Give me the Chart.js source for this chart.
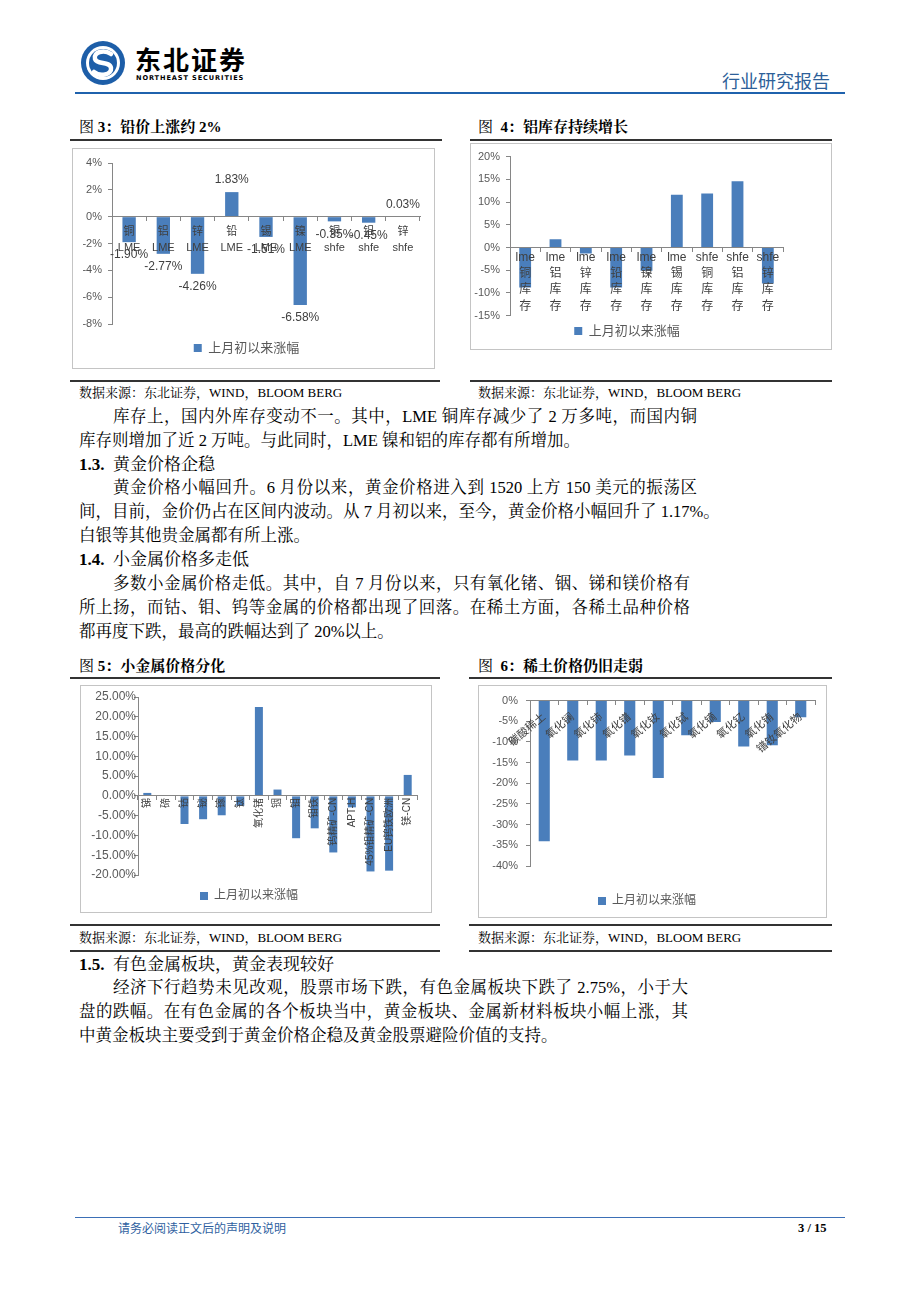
<!DOCTYPE html>
<html>
<head>
<meta charset="utf-8">
<script src="https://cdn.jsdelivr.net/npm/chart.js@4.4.1/dist/chart.umd.min.js"></script>
<style>
  body { margin: 0; background: #fff; }
  #page { position: relative; width: 920px; height: 1302px; background: #fff; overflow: hidden;
          font-family: "Liberation Serif", "Noto Serif CJK SC", "Noto Sans CJK SC", serif; color: #000; }
  .abs { position: absolute; white-space: nowrap; }
  .ln { position: absolute; white-space: nowrap; font-size: 16.5px; line-height: 24px; height: 24px; }
  .just { text-align: justify; text-align-last: justify; }
  .hd { position: absolute; white-space: nowrap; font-size: 17px; line-height: 24px; }
  .hd b { font-weight: bold; }
  .ttl { position: absolute; white-space: nowrap; font-size: 15px; line-height: 20px; }
  .src { position: absolute; white-space: nowrap; font-size: 13px; line-height: 18px; }
  .rule { position: absolute; height: 2px; background: #333; }
  .box { position: absolute; border: 1px solid #c4c4c4; box-sizing: border-box; }
  .box canvas { position: absolute; left: 0; top: 0; }
</style>
</head>
<body>
<div id="page">
  <!-- header -->
  <svg class="abs" style="left:80px;top:40px" width="48" height="48" viewBox="0 0 48 48">
    <circle cx="23" cy="23" r="22" fill="#1d5ea8"/>
    <circle cx="23" cy="23" r="17" fill="#fff"/>
    <circle cx="23" cy="23" r="14" fill="#1d5ea8"/>
    <path d="M31 14 C24 9 13 12 15 19 C17 25 30 21 31 28 C32 35 20 37 14 32" stroke="#fff" stroke-width="4.5" fill="none" stroke-linecap="round"/>
  </svg>
  <div class="abs" style="left:135px;top:44px;font-family:'Noto Sans CJK SC';font-weight:bold;font-size:26px;line-height:30px;letter-spacing:2px">东北证券</div>
  <div class="abs" style="left:136px;top:74px;font-family:'DejaVu Sans';font-weight:bold;font-size:6.6px;line-height:8px;letter-spacing:0.9px">NORTHEAST SECURITIES</div>
  <div class="abs" style="left:722px;top:69px;font-family:'Noto Sans CJK SC';font-size:18px;line-height:22px;color:#2d5f99">行业研究报告</div>
  <div class="abs" style="left:75px;top:92px;width:770px;height:2px;background:#1f62ad"></div>

  <!-- figure 3 / 4 titles -->
  <div class="ttl" style="left:79px;top:117px">图 <b>3：铅价上涨约 2%</b></div>
  <div class="ttl" style="left:478px;top:117px">图&nbsp;&nbsp;<b>4：铝库存持续增长</b></div>
  <div class="rule" style="left:70px;top:139px;width:372px"></div>
  <div class="rule" style="left:470px;top:139px;width:362px"></div>

  <div class="box" style="left:72px;top:148px;width:363px;height:221px"><canvas id="c3" width="361" height="219"></canvas></div>
  <div class="box" style="left:470px;top:143px;width:362px;height:207px"><canvas id="c4" width="360" height="205"></canvas></div>

  <div class="rule" style="left:70px;top:380px;width:370px"></div>
  <div class="rule" style="left:470px;top:380px;width:362px"></div>
  <div class="src" style="left:79px;top:384px">数据来源：东北证券，WIND，BLOOM BERG</div>
  <div class="src" style="left:478px;top:384px">数据来源：东北证券，WIND，BLOOM BERG</div>

  <!-- body text -->
  <div class="ln just" style="left:113px;top:405px;width:584px">库存上，国内外库存变动不一。其中，LME 铜库存减少了 2 万多吨，而国内铜</div>
  <div class="ln" style="left:79px;top:429px">库存则增加了近 2 万吨。与此同时，LME 镍和铝的库存都有所增加。</div>
  <div class="hd" style="left:79px;top:453px"><b>1.3.</b></div>
  <div class="hd" style="left:113px;top:453px">黄金价格企稳</div>
  <div class="ln just" style="left:113px;top:476px;width:584px">黄金价格小幅回升。6 月份以来，黄金价格进入到 1520 上方 150 美元的振荡区</div>
  <div class="ln just" style="left:79px;top:500px;width:629px">间，目前，金价仍占在区间内波动。从 7 月初以来，至今，黄金价格小幅回升了 1.17%。</div>
  <div class="ln" style="left:79px;top:524px">白银等其他贵金属都有所上涨。</div>
  <div class="hd" style="left:79px;top:548px"><b>1.4.</b></div>
  <div class="hd" style="left:113px;top:548px">小金属价格多走低</div>
  <div class="ln just" style="left:113px;top:572px;width:577px">多数小金属价格走低。其中，自 7 月份以来，只有氧化锗、铟、锑和镁价格有</div>
  <div class="ln just" style="left:79px;top:596px;width:611px">所上扬，而钴、钼、钨等金属的价格都出现了回落。在稀土方面，各稀土品种价格</div>
  <div class="ln" style="left:79px;top:620px">都再度下跌，最高的跌幅达到了 20%以上。</div>

  <!-- figure 5 / 6 titles -->
  <div class="ttl" style="left:79px;top:656px">图 <b>5：小金属价格分化</b></div>
  <div class="ttl" style="left:478px;top:656px">图&nbsp;&nbsp;<b>6：稀土价格仍旧走弱</b></div>
  <div class="rule" style="left:70px;top:677px;width:370px"></div>
  <div class="rule" style="left:469px;top:677px;width:363px"></div>

  <div class="box" style="left:80px;top:685px;width:352px;height:228px"><canvas id="c5" width="350" height="226"></canvas></div>
  <div class="box" style="left:478px;top:685px;width:349px;height:233px"><canvas id="c6" width="347" height="231"></canvas></div>

  <div class="rule" style="left:70px;top:924px;width:370px"></div>
  <div class="rule" style="left:469px;top:924px;width:363px"></div>
  <div class="src" style="left:79px;top:929px">数据来源：东北证券，WIND，BLOOM BERG</div>
  <div class="src" style="left:478px;top:929px">数据来源：东北证券，WIND，BLOOM BERG</div>
  <div class="rule" style="left:70px;top:950px;width:370px"></div>
  <div class="rule" style="left:469px;top:950px;width:363px"></div>

  <div class="hd" style="left:79px;top:953px"><b>1.5.</b></div>
  <div class="hd" style="left:113px;top:953px">有色金属板块，黄金表现较好</div>
  <div class="ln just" style="left:113px;top:976px;width:575px">经济下行趋势未见改观，股票市场下跌，有色金属板块下跌了 2.75%，小于大</div>
  <div class="ln just" style="left:79px;top:1000px;width:609px">盘的跌幅。在有色金属的各个板块当中，黄金板块、金属新材料板块小幅上涨，其</div>
  <div class="ln" style="left:79px;top:1024px">中黄金板块主要受到于黄金价格企稳及黄金股票避险价值的支持。</div>

  <!-- footer -->
  <div class="abs" style="left:75px;top:1217px;width:770px;height:1px;background:#3b6fb6"></div>
  <div class="abs" style="left:118px;top:1220px;font-family:'Noto Sans CJK SC';font-size:12px;line-height:16px;color:#2f5f9f">请务必阅读正文后的声明及说明</div>
  <div class="abs" style="left:798px;top:1220px;font-size:12.5px;line-height:16px;font-weight:bold">3 / 15</div>
</div>

<script>
// series name shared by all four charts
const seriesName = '上月初以来涨幅';

// 图3: base metal prices
const priceLabels = [['铜', 'LME'], ['铝', 'LME'], ['锌', 'LME'], ['铅', 'LME'], ['锡', 'LME'], ['镍', 'LME'], ['铜', 'shfe'], ['铝', 'shfe'], ['锌', 'shfe']];
const priceChange = [-1.90, -2.77, -4.26, 1.83, -1.51, -6.58, -0.35, -0.45, 0.03];
const priceTicks = { min: -8, max: 4, step: 2 };

// 图4: stocks
const stockLabels = [['lme', '铜', '库', '存'], ['lme', '铝', '库', '存'], ['lme', '锌', '库', '存'], ['lme', '铅', '库', '存'], ['lme', '镍', '库', '存'], ['lme', '锡', '库', '存'], ['shfe', '铜', '库', '存'], ['shfe', '铝', '库', '存'], ['shfe', '锌', '库', '存']];
const stockChange = [-8.8, 1.8, -1.3, -8.8, -5.1, 11.6, 11.9, 14.6, -7.9];
const stockTicks = { min: -15, max: 20, step: 5 };

// 图5: minor metals
const minorLabels = ['锑', '碲', '钴', '铋', '镓', '钛', '氧化锗', '铟', '钼', '钼铁', '钨精矿-CN', 'APT-H', '45%钼精矿-CN', 'EU钨铁欧洲', '镁-CN'];
const minorChange = [0.75, 0, -7.1, -5.9, -4.9, -2.5, 22.5, 1.6, -10.7, -8.2, -14.3, -2.9, -19.1, -18.9, 5.3];
const minorTicks = { min: -20, max: 25, step: 5 };

// 图6: rare earths
const rareLabels = ['碳酸稀土', '氧化镧', '氧化铈', '氧化镨', '氧化钕', '氧化铽', '氧化镝', '氧化钇', '氧化铕', '镨钕氧化物'];
const rareChange = [-34.0, -14.5, -14.5, -13.3, -18.7, -8.4, -5.2, -11.1, -10.8, -4.0];
const rareTicks = { min: -40, max: 0, step: 5 };

const BAR = '#4a7ebb';
const AXIS = '#868686';
const TXT = '#595959';
const FONT = 'Arial, "Liberation Sans", "Noto Sans CJK SC", sans-serif';

// value labels outside the bar ends (图3 only)
const valueLabels = {
    id: 'valueLabels',
    afterDatasetsDraw(chart, args, opts) {
        if (!opts.show) return;
        const ctx = chart.ctx;
        const values = chart.data.datasets[0].data;
        ctx.save();
        ctx.font = '12px ' + FONT;
        ctx.fillStyle = '#404040';
        ctx.textAlign = 'center';
        ctx.textBaseline = 'middle';
        chart.getDatasetMeta(0).data.forEach((bar, i) => {
            const v = values[i];
            ctx.fillText(v.toFixed(2) + '%', bar.x, v >= 0 ? bar.y - 12 : bar.y + 13);
        });
        ctx.restore();
    }
};

function barChart(id, labels, values, t, o) {
    return new Chart(document.getElementById(id), {
        type: 'bar',
        data: {
            labels: labels,
            datasets: [{ label: seriesName, data: values, backgroundColor: BAR, borderWidth: 0,
                         barPercentage: o.barPct, categoryPercentage: 1 }]
        },
        options: {
            responsive: false,
            animation: false,
            layout: { padding: o.pad },
            plugins: {
                tooltip: { enabled: false },
                valueLabels: { show: !!o.values },
                legend: {
                    position: 'bottom',
                    labels: { boxWidth: 8, boxHeight: 8, padding: o.legendPad, color: TXT,
                              font: { size: o.legendSize, family: FONT } }
                }
            },
            scales: {
                x: {
                    position: { y: 0 },
                    offset: true,
                    grid: { display: true, drawOnChartArea: false, drawTicks: true, tickLength: 4, color: AXIS, offset: true },
                    border: { color: AXIS, z: 1 },
                    // labels sit on top of the bars, as in the original
                    ticks: { z: 1, autoSkip: false, minRotation: o.rot, maxRotation: o.rot, padding: o.xPad, color: '#404040',
                             font: { size: o.xSize, family: FONT, lineHeight: o.xLine } }
                },
                y: {
                    min: t.min, max: t.max,
                    grid: { display: true, drawOnChartArea: false, drawTicks: true, tickLength: 4, color: AXIS },
                    border: { color: AXIS },
                    ticks: { stepSize: t.step, padding: o.yPad, color: TXT, font: { size: o.ySize, family: FONT },
                             callback: v => (o.dec ? v.toFixed(2) : v) + '%' },
                    afterFit: s => { s.width = o.yWidth; }
                }
            }
        },
        plugins: [valueLabels]
    });
}

barChart('c3', priceLabels, priceChange, priceTicks, {
    barPct: 0.39, pad: { left: 0, right: 14, top: 14, bottom: 3.5 }, legendPad: 17.5, legendSize: 13,
    rot: 0, xPad: 3, xSize: 11, xLine: 1.5, yPad: 6, ySize: 11, yWidth: 39, values: true
});
barChart('c4', stockLabels, stockChange, stockTicks, {
    barPct: 0.39, pad: { left: 0, right: 48, top: 9, bottom: 1.5 }, legendPad: 8.8, legendSize: 13,
    rot: 0, xPad: -2, xSize: 12, xLine: 1.35, yPad: 6, ySize: 11, yWidth: 39
});
barChart('c5', minorLabels, minorChange, minorTicks, {
    barPct: 0.43, pad: { left: 0, right: 14, top: 11, bottom: 0 }, legendPad: 15, legendSize: 12,
    rot: 90, xPad: -2, xSize: 10, xLine: 1.2, yPad: -2, ySize: 12, yWidth: 57, dec: true
});
barChart('c6', rareLabels, rareChange, rareTicks, {
    barPct: 0.39, pad: { left: 0, right: 11, top: 11, bottom: 0 }, legendPad: 29, legendSize: 12,
    rot: 40, xPad: 6, xSize: 11, xLine: 1.2, yPad: 8, ySize: 11, yWidth: 51
});
</script>
</body>
</html>
